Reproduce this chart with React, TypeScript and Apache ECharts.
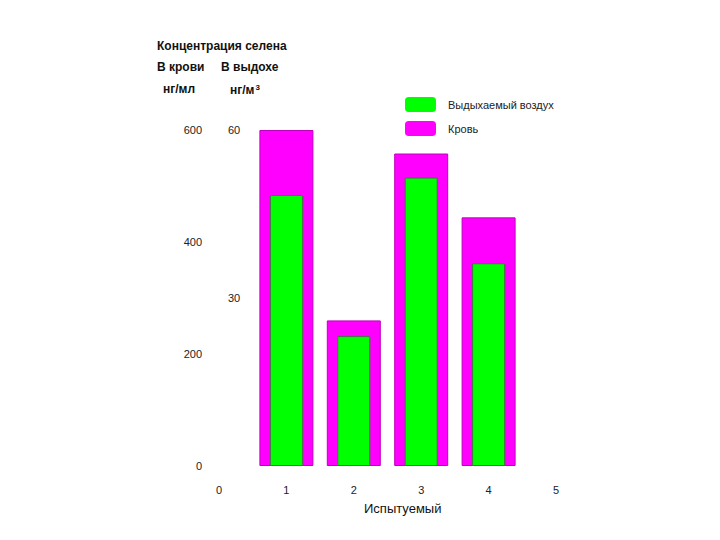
import React, { useEffect, useRef } from "react";
import * as echarts from "echarts";

const subjects = [1, 2, 3, 4];
const bloodValues = [600, 260, 558, 444]; // нг/мл
const exhaledValues = [48.4, 23.2, 51.5, 36.2]; // нг/м3
const bloodTicks = [0, 200, 400, 600];
const exhaledTicks = [30, 60];
const xTicks = [0, 1, 2, 3, 4, 5];

const FONT = "'Liberation Sans', Arial, sans-serif";

export default function App() {
  const ref = useRef<HTMLDivElement>(null);
  useEffect(() => {
    const chart = echarts.init(ref.current!, undefined, { renderer: "svg" });
    const grid = { left: 219, right: 164, top: 130, bottom: 74 };
    chart.setOption({
      animation: false,
      backgroundColor: "#ffffff",
      textStyle: { fontFamily: FONT },
      grid,
      legend: {
        orient: "vertical",
        left: 405,
        top: 97,
        padding: 0,
        itemWidth: 31,
        itemHeight: 15,
        itemGap: 9,
        icon: "roundRect",
        itemStyle: { borderWidth: 0 },
        textStyle: { fontSize: 11, color: "#222", fontFamily: FONT, padding: [0, 0, 0, 7] },
        data: ["Выдыхаемый воздух", "Кровь"],
      },
      xAxis: [
        {
          type: "value",
          min: 0,
          max: 5,
          interval: 1,
          axisLine: { show: false },
          axisTick: { show: false },
          splitLine: { show: false },
          axisLabel: {
            margin: 18,
            fontSize: 11,
            color: "#222",
            fontFamily: FONT,
            formatter: (v: number) => (xTicks.includes(v) ? String(v) : ""),
          },
        },
        {
          type: "value",
          min: 0,
          max: 5,
          show: false,
        },
      ],
      yAxis: [
        {
          type: "value",
          min: 0,
          max: 600,
          interval: 200,
          axisLine: { show: false },
          axisTick: { show: false },
          splitLine: { show: false },
          axisLabel: {
            margin: 17,
            fontSize: 11,
            color: "#222",
            fontFamily: FONT,
            formatter: (v: number) => (bloodTicks.includes(v) ? String(v) : ""),
          },
        },
        {
          type: "value",
          position: "left",
          min: 0,
          max: 60,
          interval: 30,
          axisLine: { show: false },
          axisTick: { show: false },
          splitLine: { show: false },
          axisLabel: {
            inside: true,
            margin: 9,
            fontSize: 11,
            color: "#222",
            fontFamily: FONT,
            formatter: (v: number) => (exhaledTicks.includes(v) ? String(v) : ""),
          },
        },
      ],
      series: [
        {
          name: "Кровь",
          type: "bar",
          xAxisIndex: 0,
          yAxisIndex: 0,
          barWidth: 54,
          itemStyle: { color: "#ff00ff", borderColor: "#c000c0", borderWidth: 1 },
          data: subjects.map((s, i) => [s, bloodValues[i]]),
        },
        {
          name: "Выдыхаемый воздух",
          type: "bar",
          xAxisIndex: 1,
          yAxisIndex: 1,
          barWidth: 33,
          itemStyle: { color: "#00ff00", borderColor: "#3c7a3c", borderWidth: 1 },
          data: subjects.map((s, i) => [s, exhaledValues[i]]),
        },
      ],
      graphic: [
        {
          type: "text",
          left: 157,
          top: 40,
          style: { text: "Концентрация селена", font: `bold 12px ${FONT}`, fill: "#111" },
        },
        {
          type: "text",
          left: 157,
          top: 61,
          style: { text: "В крови", font: `bold 12px ${FONT}`, fill: "#111" },
        },
        {
          type: "text",
          left: 221,
          top: 61,
          style: { text: "В выдохе", font: `bold 12px ${FONT}`, fill: "#111" },
        },
        {
          type: "text",
          left: 163,
          top: 83,
          style: { text: "нг/мл", font: `bold 12px ${FONT}`, fill: "#111" },
        },
        {
          type: "text",
          left: 230,
          top: 83,
          style: {
            text: "нг/м{sup|3}",
            font: `bold 12px ${FONT}`,
            fill: "#111",
            rich: { sup: { fontSize: 8, fontWeight: "bold", verticalAlign: "top", padding: [0, 0, 6, 1] } },
          },
        },
        {
          type: "text",
          left: 364,
          top: 502,
          style: { text: "Испытуемый", font: `13px ${FONT}`, fill: "#111" },
        },
      ],
    });
    return () => chart.dispose();
  }, []);
  return (
    <div
      ref={ref}
      style={{ position: "absolute", left: 0, top: 0, width: 720, height: 540 }}
    />
  );
}
